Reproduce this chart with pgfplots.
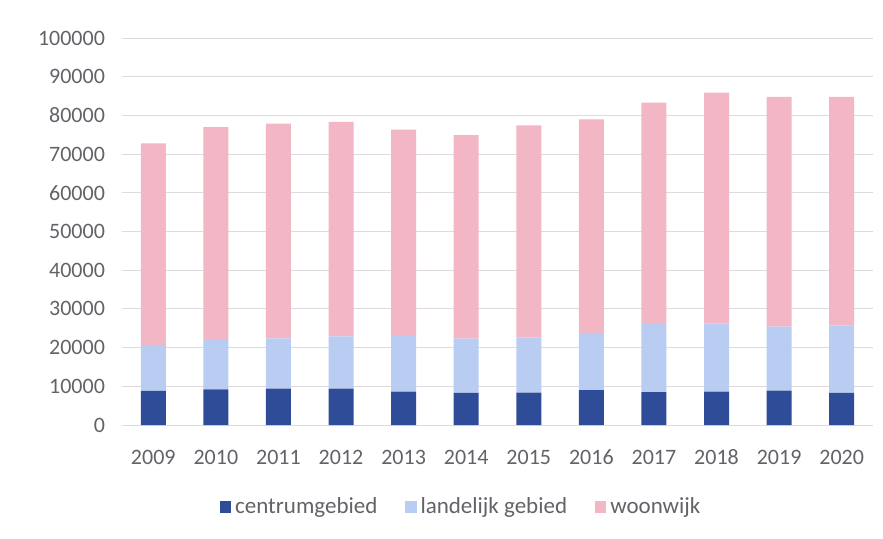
\documentclass[border=0pt]{standalone}
\usepackage{fontspec}
\setmainfont{Carlito}
\usepackage{pgfplots}
\pgfplotsset{compat=1.18}
\definecolor{cdark}{RGB}{47,76,152}
\definecolor{clight}{RGB}{185,205,242}
\definecolor{cpink}{RGB}{242,182,196}
\definecolor{ctext}{RGB}{100,98,104}
\definecolor{cgrid}{RGB}{222,218,224}
\begin{document}
\begin{tikzpicture}
\path[use as bounding box] (-61pt,-56.5pt) rectangle (380.5pt,212.5pt);
\begin{axis}[
  at={(0,0)}, anchor=south west,
  scale only axis, width=375.5pt, height=193.5pt,
  ybar stacked, bar width=12.5pt,
  xmin=-0.5, xmax=11.5, ymin=0, ymax=100000,
  xtick={0,...,11},
  xticklabels={2009,2010,2011,2012,2013,2014,2015,2016,2017,2018,2019,2020},
  ytick={0,10000,...,100000},
  scaled y ticks=false,
  yticklabel style={/pgf/number format/fixed, /pgf/number format/1000 sep={}, /pgf/number format/assume math mode=true},
  xticklabel style={text height=8pt, text depth=0pt, /pgf/number format/assume math mode=true},
  tick label style={font=\fontsize{11}{13}\selectfont, text=ctext},
  axis line style={draw=none},
  major tick length=0pt,
  ymajorgrids, grid style={cgrid, line width=0.5pt},
  xtick pos=bottom, ytick pos=left,
  xticklabel shift=8pt, yticklabel shift=5pt,
  legend style={at={(axis description cs:0.453,-0.212)}, anchor=center, draw=none,
    legend columns=-1, font=\fontsize{11.5}{13}\selectfont, text=ctext,
    /tikz/every even column/.append style={column sep=12pt},
    /tikz/every odd column/.append style={column sep=0pt}},
  legend image code/.code={\fill[#1] (0pt,-2.8pt) rectangle (5.6pt,2.8pt);},
]
\addplot+[fill=cdark, draw=none] coordinates {
(0,8800) (1,9200) (2,9400) (3,9400) (4,8600) (5,8300)
(6,8400) (7,9000) (8,8500) (9,8600) (10,8900) (11,8300)};
\addplot+[fill=clight, draw=none] coordinates {
(0,11900) (1,13000) (2,13000) (3,13500) (4,14400) (5,14000)
(6,14200) (7,14800) (8,17800) (9,17600) (10,16500) (11,17400)};
\addplot+[fill=cpink, draw=none] coordinates {
(0,52100) (1,54800) (2,55500) (3,55400) (4,53300) (5,52600)
(6,54800) (7,55200) (8,57000) (9,59700) (10,59400) (11,59100)};
\legend{centrumgebied, landelijk gebied, woonwijk}
\end{axis}
\end{tikzpicture}
\end{document}
